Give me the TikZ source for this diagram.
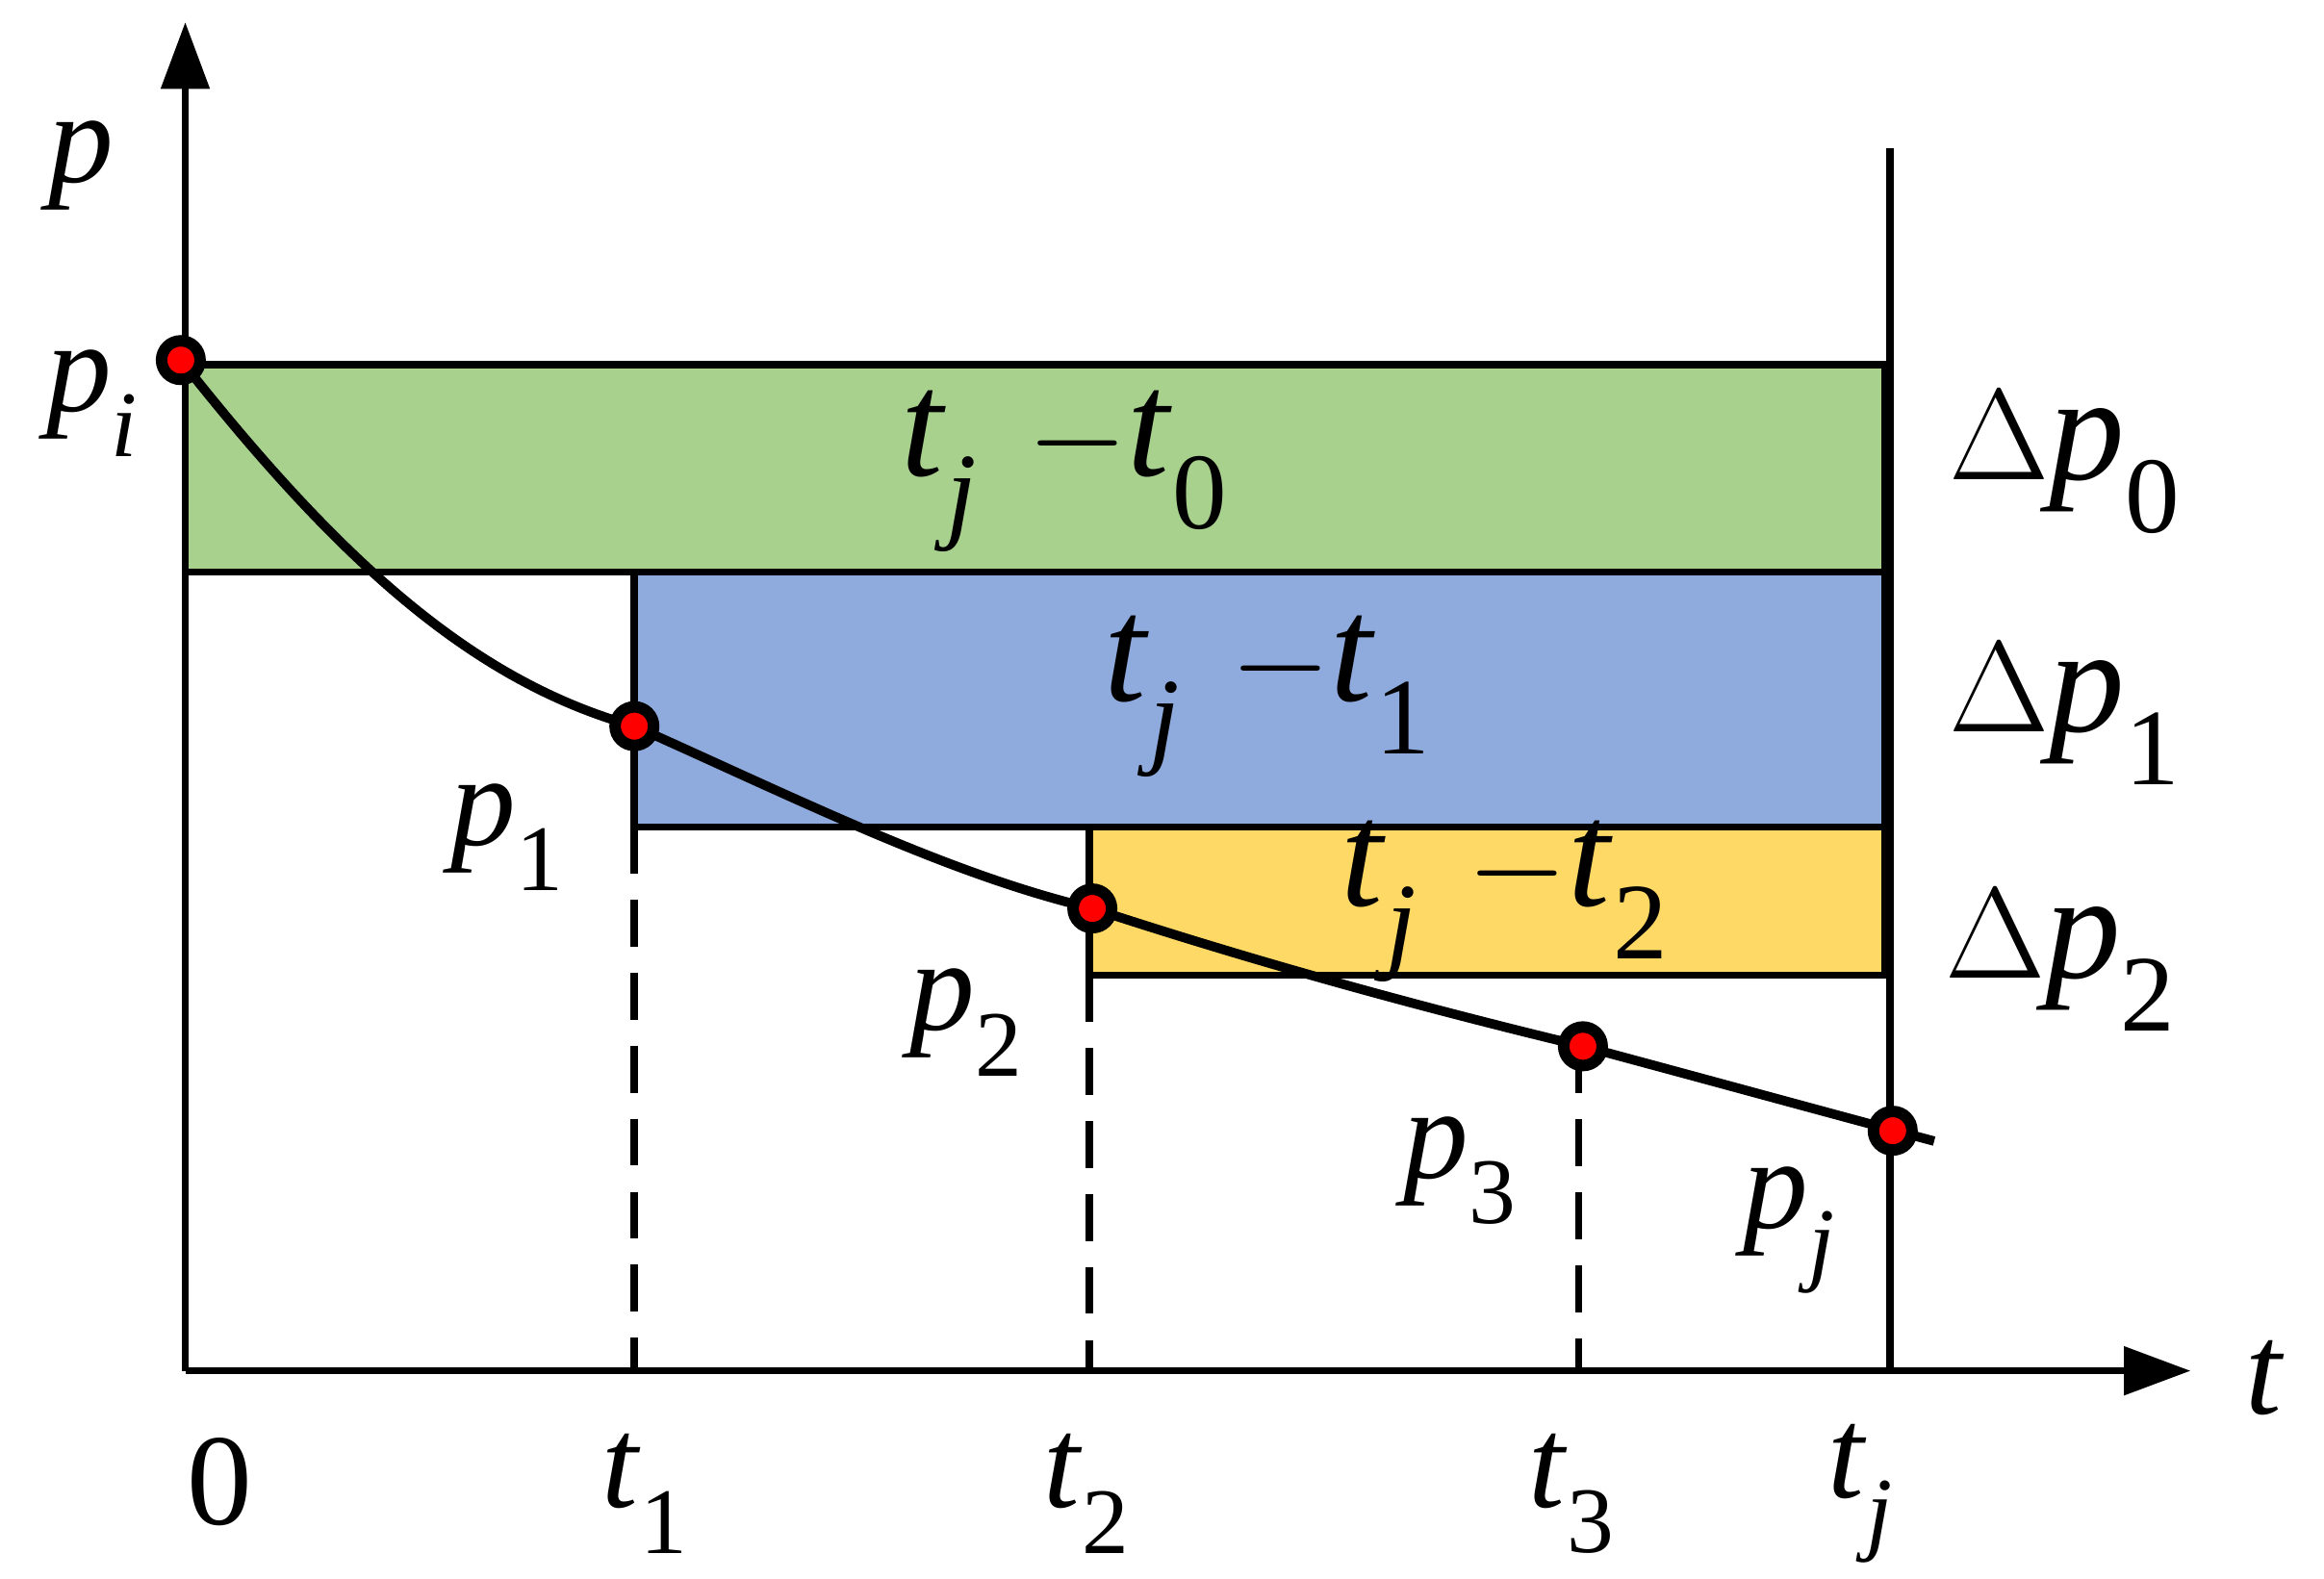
\documentclass[tikz,border=0pt]{standalone}
\usepackage{fontspec}
\setmainfont{Liberation Serif}
\usetikzlibrary{arrows.meta}
\newcommand{\sbs}[1]{\raisebox{-0.35em}{\scalebox{0.72}{#1}}}
\newcommand{\ii}[1]{\textit{#1}}
\begin{document}
\begin{tikzpicture}[x=0.01cm,y=-0.01cm,
  lab/.style={font=\fontsize{25}{28}\selectfont},
  big/.style={font=\fontsize{29}{32}\selectfont},
  dot/.style={circle,fill=red,draw=black,line width=2.2pt,minimum size=0.26cm,inner sep=0pt},
  ln/.style={line width=1.4pt}]
\useasboundingbox (0,0) rectangle (1568,1065);
\fill[white] (0,0) rectangle (1568,1065);
\draw[ln,fill={rgb,255:red,169;green,209;blue,142}] (125,246) rectangle (1272,386);
\draw[ln,fill={rgb,255:red,143;green,170;blue,220}] (428,386) rectangle (1272,558);
\draw[ln,fill={rgb,255:red,255;green,217;blue,102}] (735,558) rectangle (1272,658);
\draw[ln,-{Triangle[length=0.45cm,width=0.32cm]}] (125,925) -- (125,15);
\draw[ln,-{Triangle[length=0.45cm,width=0.32cm]}] (125,925) -- (1478,925);
\draw[ln] (1275,100) -- (1275,925);
\draw[ln,dash pattern=on 9pt off 5pt] (428,558) -- (428,925);
\draw[ln,dash pattern=on 9pt off 5pt] (735,658) -- (735,925);
\draw[ln,dash pattern=on 9pt off 5pt] (1065,706) -- (1065,925);
\draw[line width=1.8pt] (122,243) .. controls (230,380) and (320,460) .. (428,490)
  .. controls (540,540) and (640,590) .. (737,613)
  .. controls (850,650) and (960,680) .. (1068,706)
  .. controls (1150,728) and (1230,750) .. (1305,770);
\foreach \n/\x/\y in {a/122/243,b/428/490,c/737/613,d/1068/706,e/1277/763}
  \node[dot] (\n) at (\x,\y) {};
\node[lab] (lp) at (55,112) {\ii{p}};
\node[lab] (lpi) at (62,272) {\ii{p}\sbs{\ii{i}}};
\node[big] (r0) at (718,318) {\ii{t}\sbs{\ii{j}}\,\,$-$\ii{t}\sbs{0}};
\node[big] (r1) at (855,470) {\ii{t}\sbs{\ii{j}}\,\,$-$\ii{t}\sbs{1}};
\node[big] (r2) at (1015,608) {\ii{t}\sbs{\ii{j}}\,\,$-$\ii{t}\sbs{2}};
\node[big] (d0) at (1393,312) {$\Delta$\ii{p}\sbs{0}};
\node[big] (d1) at (1393,482) {$\Delta$\ii{p}\sbs{1}};
\node[big] (d2) at (1390,648) {$\Delta$\ii{p}\sbs{2}};
\node[lab] (l1) at (342,565) {\ii{p}\sbs{1}};
\node[lab] (l2) at (652,690) {\ii{p}\sbs{2}};
\node[lab] (l3) at (985,790) {\ii{p}\sbs{3}};
\node[lab] (lj) at (1207,830) {\ii{p}\sbs{\ii{j}}};
\node[lab] (o) at (148,1000) {0};
\node[lab] (t1) at (435,1008) {\ii{t}\sbs{1}};
\node[lab] (t2) at (733,1008) {\ii{t}\sbs{2}};
\node[lab] (t3) at (1060,1008) {\ii{t}\sbs{3}};
\node[lab] (tj) at (1255,1008) {\ii{t}\sbs{\ii{j}}};
\node[lab] (tt) at (1528,930) {\ii{t}};
\end{tikzpicture}
\end{document}
